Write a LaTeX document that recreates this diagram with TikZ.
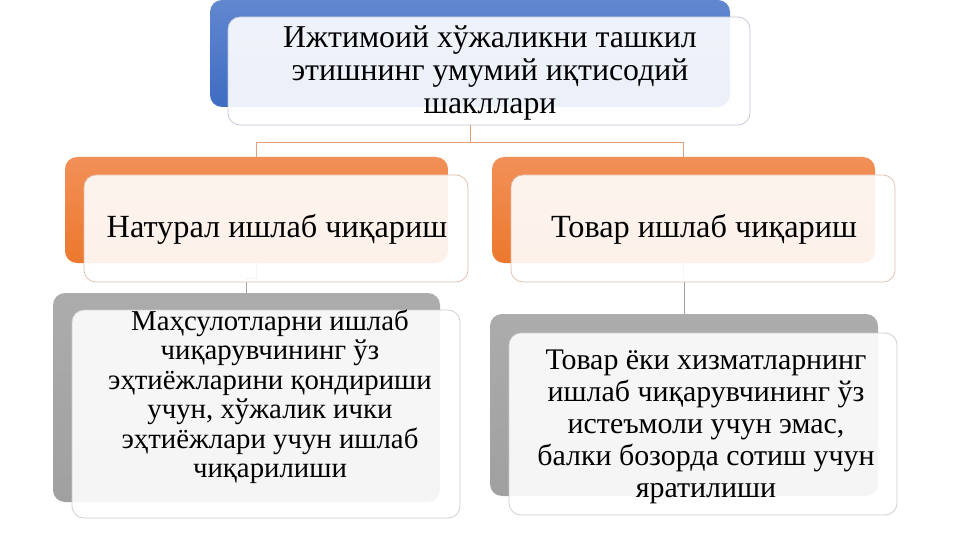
\documentclass[tikz,border=0pt]{standalone}
\usepackage{fontspec}
\setmainfont{Liberation Serif}
\definecolor{bluetop}{RGB}{98,135,208}
\definecolor{bluebot}{RGB}{62,108,194}
\definecolor{orangetop}{RGB}{242,144,88}
\definecolor{orangebot}{RGB}{236,120,45}
\definecolor{graytop}{RGB}{172,172,172}
\definecolor{graybot}{RGB}{160,160,160}
\definecolor{blueedge}{RGB}{190,198,214}
\definecolor{orangeedge}{RGB}{222,190,172}
\definecolor{grayedge}{RGB}{205,205,205}
\definecolor{connorange}{RGB}{226,160,122}
\definecolor{conngray}{RGB}{160,160,160}
\begin{document}
\begin{tikzpicture}[x=1pt,y=-1pt,
  box/.style={rectangle, rounded corners=12pt, inner sep=0pt, outer sep=0pt},
  backblue/.style={box, top color=bluetop, bottom color=bluebot},
  backorange/.style={box, top color=orangetop, bottom color=orangebot},
  backgray/.style={box, top color=graytop, bottom color=graybot},
  front/.style={box, fill=white, fill opacity=0.9, line width=0.7pt},
  txt/.style={align=center, inner sep=0pt, text=black},
  conn/.style={draw=connorange, line width=0.8pt},
  conng/.style={draw=conngray, line width=0.8pt}
]
\useasboundingbox (0,0) rectangle (961,540);
\fill[white] (0,0) rectangle (961,540);

% back shapes
\node[backblue, minimum width=520pt, minimum height=107pt] (b0) at (470,53.5) {};
\node[backorange, minimum width=383pt, minimum height=106pt] (bl) at (256.5,210) {};
\node[backorange, minimum width=383pt, minimum height=106pt] (br) at (683.5,210) {};
\node[backgray, minimum width=387pt, minimum height=209pt] (gl) at (246.5,397.5) {};
\node[backgray, minimum width=388pt, minimum height=182pt] (gr) at (684,405) {};

% connectors
\coordinate (j) at (470,142);
\draw[conn] (b0.south) -- (j) -| (bl.north);
\draw[conn] (j) -| (br.north);
\draw[conng] (bl.south) -- ++(0,15) -| (gl.north);
\draw[conng] (br.south) -- ++(0,15) -| (gr.north);

% front shapes
\node[front, draw=blueedge, minimum width=522pt, minimum height=108pt] (f0) at (489,71) {};
\node[front, draw=orangeedge, minimum width=384pt, minimum height=107pt] (fl) at (276,228.5) {};
\node[front, draw=orangeedge, minimum width=384pt, minimum height=107pt] (fr) at (703,228.5) {};
\node[front, draw=grayedge, minimum width=388pt, minimum height=208pt] (hl) at (266,414) {};
\node[front, draw=grayedge, minimum width=388pt, minimum height=182pt] (hr) at (703,424) {};

% texts
\node[txt, font=\fontsize{31.8}{33}\selectfont] (t0) at (490,73.5)
  {Ижтимоий хўжаликни ташкил\\этишнинг умумий иқтисодий\\шакллари};
\node[txt, font=\fontsize{32.3}{34}\selectfont] (t1) at (277,229) {Натурал ишлаб чиқариш};
\node[txt, font=\fontsize{32.3}{34}\selectfont] (t2) at (704,229) {Товар ишлаб чиқариш};
\node[txt, font=\fontsize{28.8}{29.5}\selectfont] (t3) at (270,397)
  {Маҳсулотларни ишлаб\\чиқарувчининг ўз\\эҳтиёжларини қондириши\\учун, хўжалик ички\\эҳтиёжлари учун ишлаб\\чиқарилиши};
\node[txt, font=\fontsize{29.9}{32}\selectfont] (t4) at (706,427)
  {Товар ёки хизматларнинг\\ишлаб чиқарувчининг ўз\\истеъмоли учун эмас,\\балки бозорда сотиш учун\\яратилиши};
\end{tikzpicture}
\end{document}
